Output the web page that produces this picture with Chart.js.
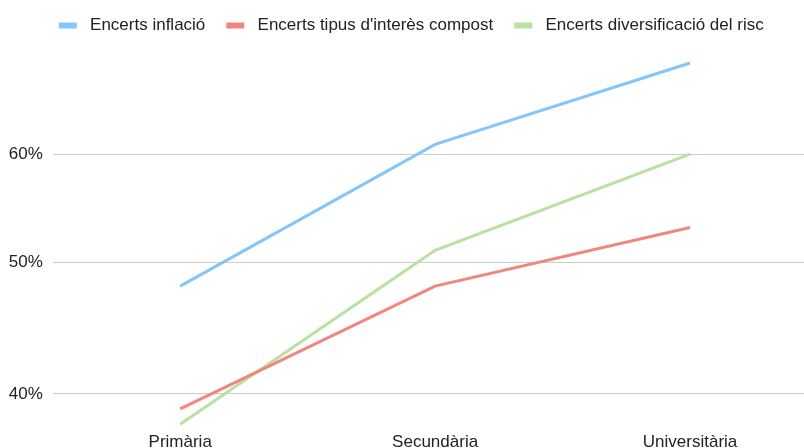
<!DOCTYPE html>
<html lang="ca">
<head>
<meta charset="UTF-8">
<title>Encerts per nivell d'estudis</title>
<script src="https://cdn.jsdelivr.net/npm/chart.js"></script>
<style>
  html, body { margin: 0; padding: 0; background: #fff; overflow: hidden; }
  #wrap { width: 824px; height: 456px; }
</style>
</head>
<body>
<div id="wrap"><canvas id="chart" width="824" height="456"></canvas></div>
<script>
// categories and series (percent)
const categories = ['Primària', 'Secundària', 'Universitària'];
const seriesNames = ['Encerts inflació', "Encerts tipus d'interès compost", 'Encerts diversificació del risc'];
const inflacio = [48, 61, 70];
const interesCompost = [39, 48, 53];
const diversificacio = [38, 51, 60];
const yTicks = [40, 50, 60];

const colors = ['#84c6fa', '#f0867e', '#b8e1a2'];
const font = { family: '"Liberation Sans", Arial, sans-serif', size: 17 };

const datasets = [inflacio, interesCompost, diversificacio].map((data, i) => ({
  label: seriesNames[i],
  data: data,
  borderColor: colors[i],
  backgroundColor: colors[i],
  borderWidth: 3,
  pointRadius: 0,
  tension: 0
}));

new Chart(document.getElementById('chart'), {
  type: 'line',
  data: { labels: categories, datasets: datasets },
  options: {
    responsive: false,
    animation: false,
    layout: { padding: { top: -4, left: 5, right: 6.5, bottom: 0 } },
    plugins: {
      tooltip: { enabled: false },
      legend: {
        position: 'top',
        labels: {
          font: font,
          color: '#222',
          boxWidth: 18,
          boxHeight: 6,
          padding: 21,
          generateLabels(chart) {
            const items = Chart.defaults.plugins.legend.labels.generateLabels(chart);
            items.forEach(it => { it.text = ' ' + it.text; it.lineWidth = 0; });
            return items;
          }
        }
      }
    },
    scales: {
      x: {
        type: 'category',
        offset: true,
        grid: { display: false, drawTicks: false },
        border: { display: false },
        ticks: { font: font, color: '#222', padding: 3, maxRotation: 0 }
      },
      y: {
        type: 'logarithmic',
        bounds: 'data',
        min: 37.66,
        max: 72.29,
        grid: { color: '#cccccc', lineWidth: 1, drawTicks: false },
        border: { display: false },
        afterBuildTicks(scale) {
          scale.ticks = yTicks.map(v => ({ value: v }));
        },
        afterFit(scale) {
          scale.width = 47.75;
        },
        ticks: {
          font: font,
          color: '#222',
          padding: 10,
          callback: v => v + '%'
        }
      }
    }
  }
});
</script>
</body>
</html>
